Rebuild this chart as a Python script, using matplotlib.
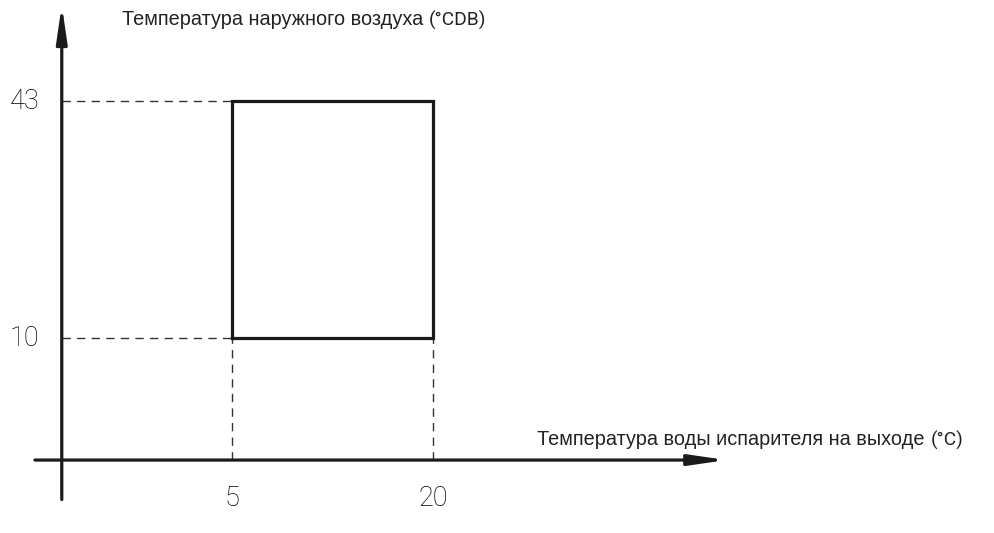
import matplotlib
matplotlib.use("Agg")
import matplotlib.pyplot as plt

# operating envelope: leaving evaporator water temp vs outdoor air temp
x_range = [5, 20]
y_range = [10, 43]
x_ticks = [5, 20]
y_ticks = [43, 10]
x_label = "Температура воды испарителя на выходе "
x_unit = "(°C)"
y_label = "Температура наружного воздуха "
y_unit = "(°CDB)"

# schematic axes position (not to scale)
x_axis_at = -7.0
y_axis_at = -7.7

tick_font = dict(family="Roboto", weight="light", size=19.5, color="#000000")
label_font = dict(family="Liberation Sans", size=14.3, color="#222222")
unit_font = dict(family="Roboto", weight="normal", size=13.8, color="#222222")

fig = plt.figure(figsize=(9.94, 5.33), dpi=100)
ax = fig.add_axes([0, 0, 1, 1])
ax.set_xlim(-12.31, 61.87)
ax.set_ylim(-17.16, 57.08)
ax.axis("off")

# axes with arrow heads
arrow = dict(arrowstyle="-|>,head_length=2.2,head_width=0.32", lw=2.3,
             color="#1a1a1a", shrinkA=0, shrinkB=0, mutation_scale=10)
ax.annotate("", xy=(y_axis_at, 56.4), xytext=(y_axis_at, -12.5), arrowprops=arrow)
ax.annotate("", xy=(41.9, x_axis_at), xytext=(-9.7, x_axis_at), arrowprops=arrow)

# dashed guide lines
dash = dict(color="#333333", lw=1.0, ls=(0, (6, 4.5)))
for yv in y_range:
    ax.plot([y_axis_at, x_range[0]], [yv, yv], **dash)
for xv in x_range:
    ax.plot([xv, xv], [x_axis_at, y_range[0]], **dash)

# envelope rectangle
ax.plot([x_range[0], x_range[1], x_range[1], x_range[0], x_range[0]],
        [y_range[0], y_range[0], y_range[1], y_range[1], y_range[0]],
        color="#1a1a1a", lw=2.3, solid_joinstyle="miter")

for yv in y_ticks:
    ax.text(-11.6, yv, str(yv), ha="left", va="center", **tick_font)
for xv in x_ticks:
    ax.text(xv, -12.3, str(xv), ha="center", va="center", **tick_font)

t = ax.text(-3.2, 54.3, y_label, ha="left", va="center", **label_font)
ax.annotate(y_unit, xy=(1, 0.5), xycoords=t, ha="left", va="center", **unit_font)

t = ax.text(27.8, -4.2, x_label, ha="left", va="center", **label_font)
ax.annotate(x_unit, xy=(1, 0.5), xycoords=t, ha="left", va="center", **unit_font)

fig.savefig("out.png", dpi=100)
